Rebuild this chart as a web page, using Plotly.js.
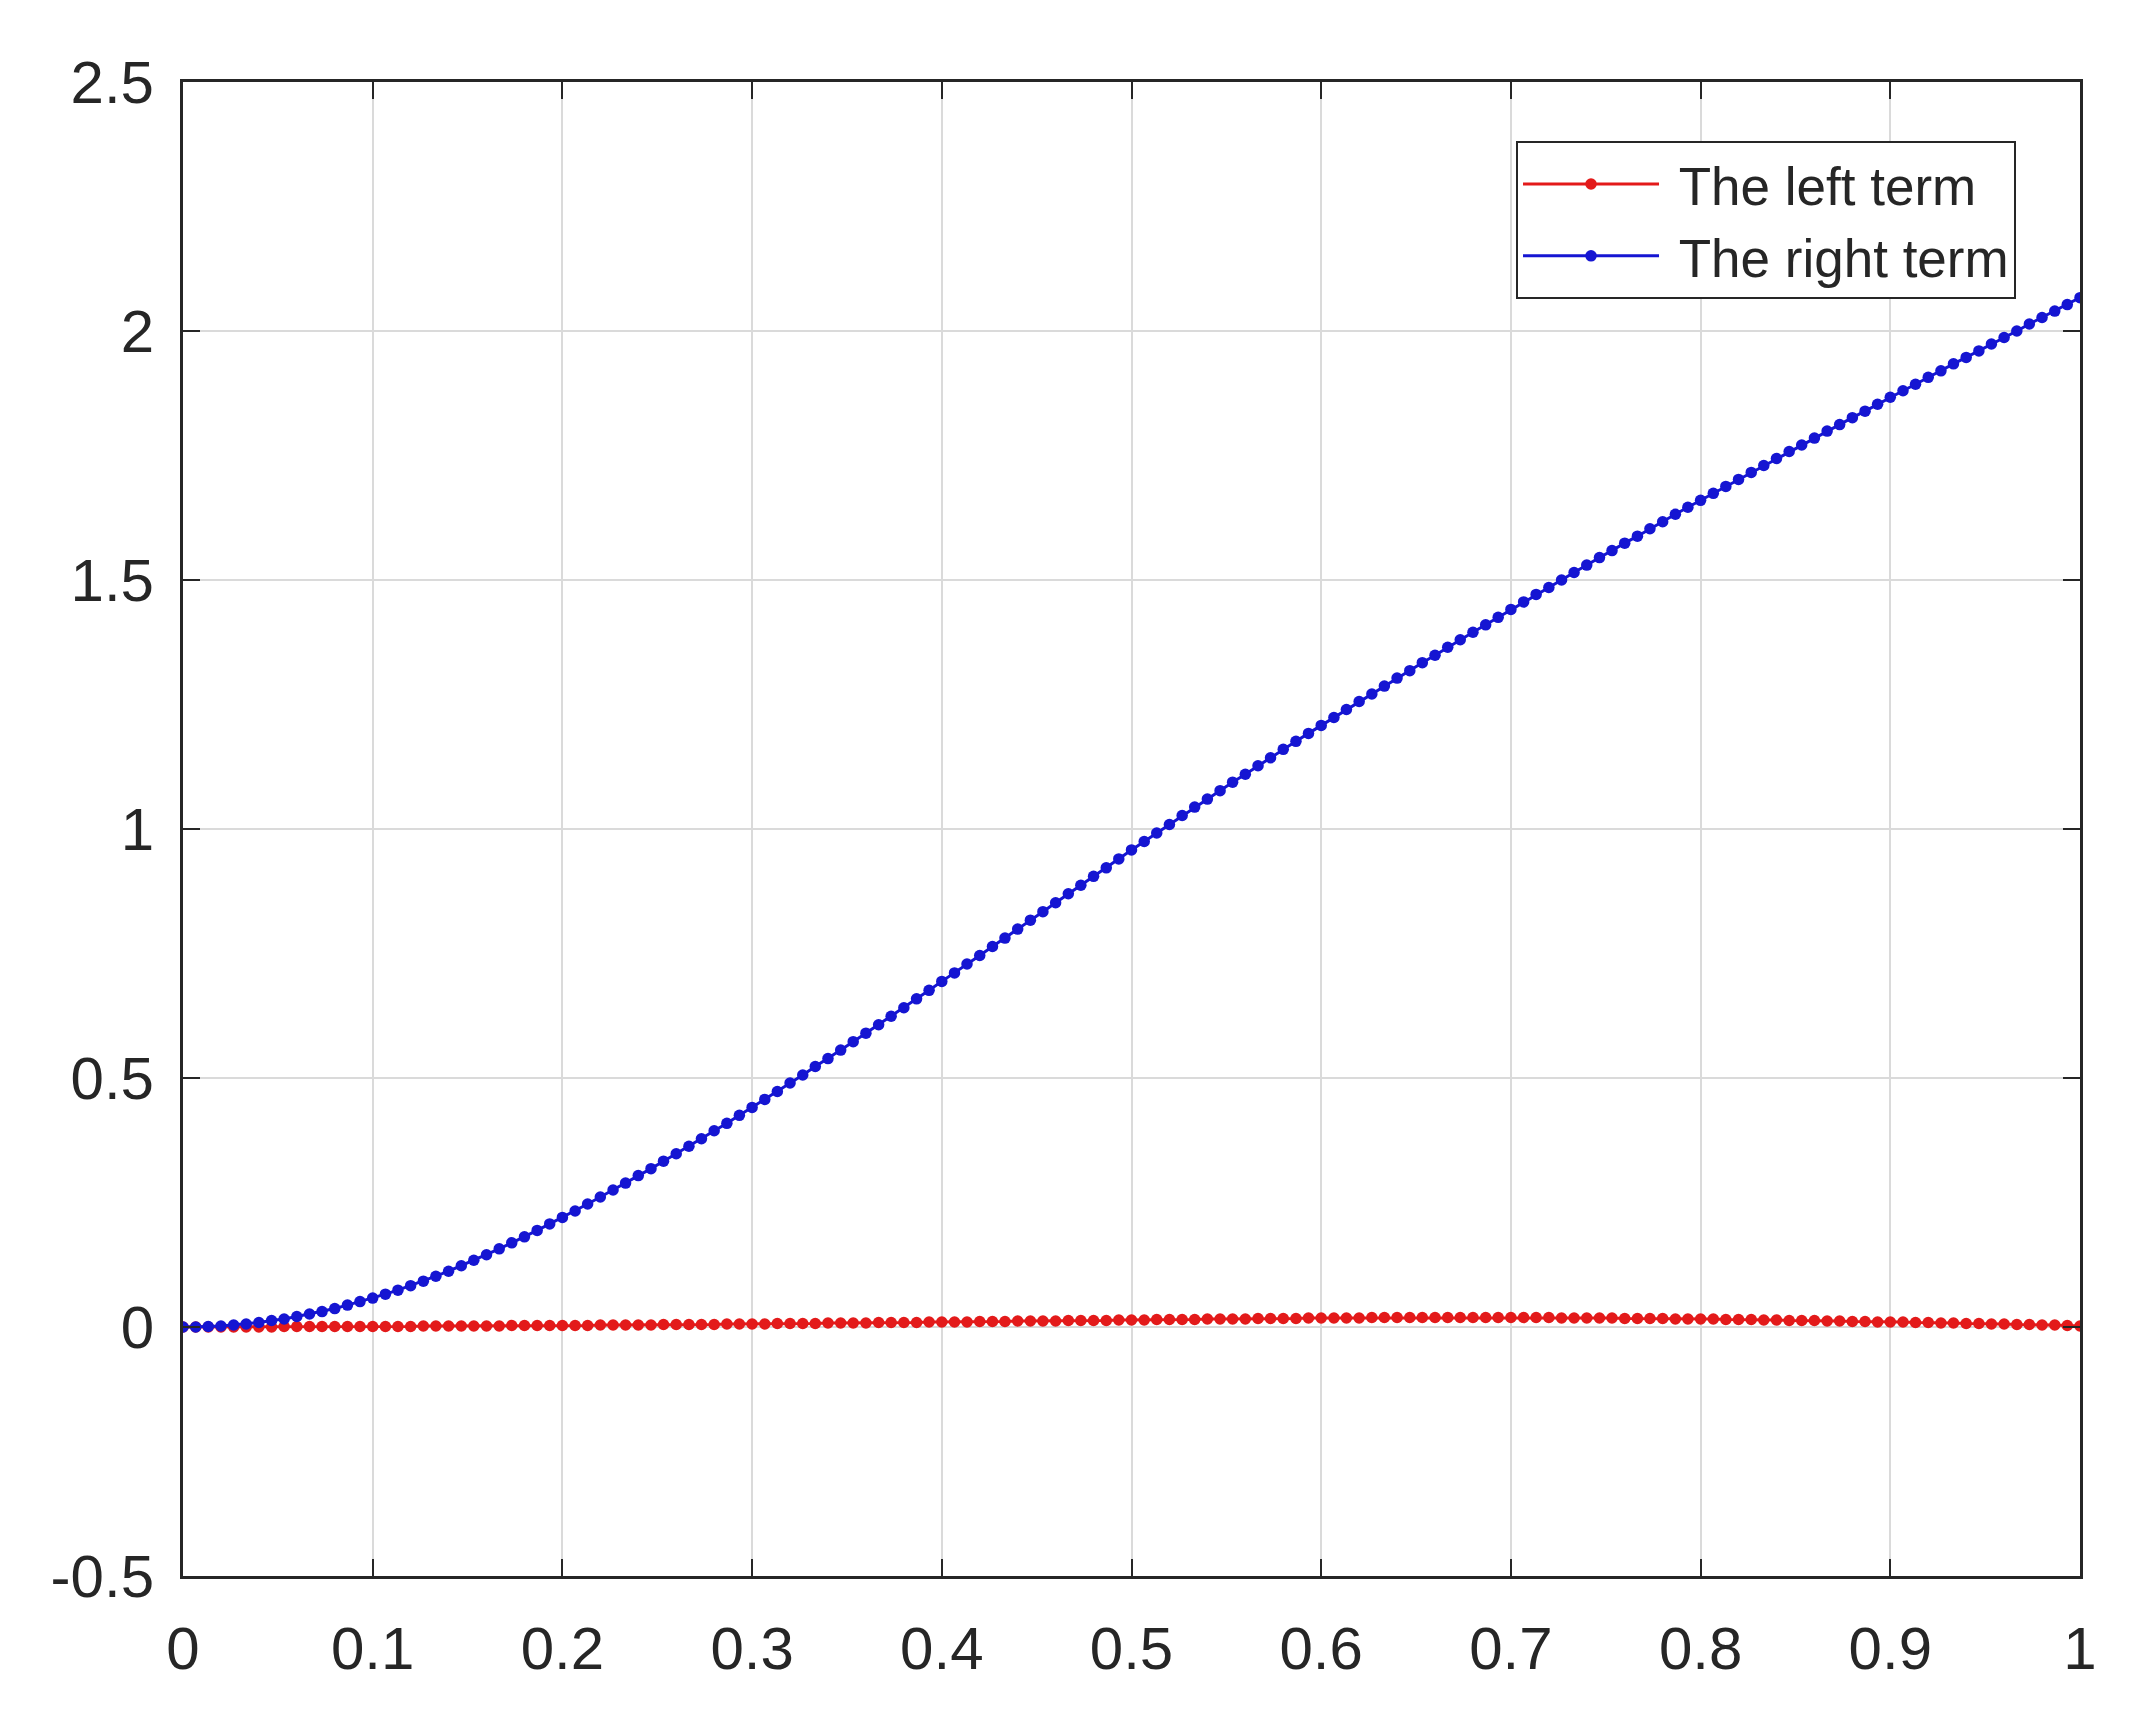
<!DOCTYPE html>
<html>
<head>
<meta charset="utf-8">
<script src="https://cdn.plot.ly/plotly-3.0.1.min.js"></script>
<style>html,body{margin:0;padding:0;background:#fff;}#chart{width:2145px;height:1722px;}</style>
</head>
<body>
<div id="chart"></div>
<script>
const xValues = [
0,0.0067,0.0133,0.02,0.0267,0.0333,0.04,0.0467,0.0533,0.06,0.0667,0.0733,0.08,0.0867,0.0933,
0.1,0.1067,0.1133,0.12,0.1267,0.1333,0.14,0.1467,0.1533,0.16,0.1667,0.1733,0.18,0.1867,0.1933,
0.2,0.2067,0.2133,0.22,0.2267,0.2333,0.24,0.2467,0.2533,0.26,0.2667,0.2733,0.28,0.2867,0.2933,
0.3,0.3067,0.3133,0.32,0.3267,0.3333,0.34,0.3467,0.3533,0.36,0.3667,0.3733,0.38,0.3867,0.3933,
0.4,0.4067,0.4133,0.42,0.4267,0.4333,0.44,0.4467,0.4533,0.46,0.4667,0.4733,0.48,0.4867,0.4933,
0.5,0.5067,0.5133,0.52,0.5267,0.5333,0.54,0.5467,0.5533,0.56,0.5667,0.5733,0.58,0.5867,0.5933,
0.6,0.6067,0.6133,0.62,0.6267,0.6333,0.64,0.6467,0.6533,0.66,0.6667,0.6733,0.68,0.6867,0.6933,
0.7,0.7067,0.7133,0.72,0.7267,0.7333,0.74,0.7467,0.7533,0.76,0.7667,0.7733,0.78,0.7867,0.7933,
0.8,0.8067,0.8133,0.82,0.8267,0.8333,0.84,0.8467,0.8533,0.86,0.8667,0.8733,0.88,0.8867,0.8933,
0.9,0.9067,0.9133,0.92,0.9267,0.9333,0.94,0.9467,0.9533,0.96,0.9667,0.9733,0.98,0.9867,0.9933,
1
];

const leftTerm = [
0,0,0,0,0,0,0,0,0.001,0.001,0.001,0.001,0.001,0.001,0.001,
0.001,0.001,0.001,0.001,0.002,0.002,0.002,0.002,0.002,0.002,0.002,0.003,0.003,0.003,0.003,
0.003,0.003,0.003,0.004,0.004,0.004,0.004,0.004,0.005,0.005,0.005,0.005,0.005,0.006,0.006,
0.006,0.006,0.007,0.007,0.007,0.007,0.008,0.008,0.008,0.008,0.009,0.009,0.009,0.009,0.010,
0.010,0.010,0.010,0.011,0.011,0.011,0.012,0.012,0.012,0.012,0.013,0.013,0.013,0.013,0.014,
0.014,0.014,0.015,0.015,0.015,0.015,0.016,0.016,0.016,0.016,0.017,0.017,0.017,0.017,0.018,
0.018,0.018,0.018,0.018,0.019,0.019,0.019,0.019,0.019,0.019,0.019,0.019,0.019,0.019,0.019,
0.019,0.019,0.019,0.019,0.018,0.018,0.018,0.018,0.018,0.017,0.017,0.017,0.017,0.016,0.016,
0.016,0.016,0.015,0.015,0.015,0.014,0.014,0.013,0.013,0.013,0.012,0.012,0.011,0.011,0.010,
0.010,0.010,0.009,0.009,0.008,0.008,0.007,0.007,0.006,0.006,0.005,0.005,0.004,0.004,0.003,
0.002
];

const rightTerm = [
0,0.000,0.001,0.002,0.004,0.006,0.009,0.013,
0.016,0.021,0.026,0.031,0.037,0.044,0.051,
0.058,0.066,0.074,0.083,0.092,0.102,0.112,0.123,
0.134,0.145,0.157,0.169,0.181,0.194,0.207,
0.220,0.233,0.247,0.261,0.275,0.289,0.304,0.318,
0.333,0.348,0.363,0.378,0.394,0.409,0.425,
0.441,0.457,0.473,0.490,0.506,0.523,0.539,0.556,
0.573,0.590,0.607,0.624,0.641,0.659,0.676,
0.694,0.711,0.729,0.746,0.764,0.781,0.799,0.817,
0.834,0.852,0.870,0.887,0.905,0.922,0.940,
0.958,0.975,0.992,1.009,1.027,1.044,1.060,1.077,
1.094,1.110,1.127,1.143,1.160,1.176,1.192,
1.208,1.224,1.240,1.256,1.271,1.287,1.303,1.318,
1.334,1.349,1.365,1.380,1.395,1.410,1.425,
1.441,1.456,1.471,1.485,1.500,1.515,1.530,1.545,
1.559,1.574,1.588,1.603,1.617,1.632,1.646,
1.660,1.674,1.688,1.702,1.716,1.730,1.744,1.758,
1.771,1.785,1.799,1.812,1.826,1.839,1.853,
1.867,1.880,1.893,1.907,1.920,1.934,1.947,1.960,
1.974,1.987,2.000,2.014,2.027,2.040,2.053,
2.067
];

const seriesNames = ['The left term', 'The right term'];
const xTickVals = [0,0.1,0.2,0.3,0.4,0.5,0.6,0.7,0.8,0.9,1];
const xTickText = ['0','0.1','0.2','0.3','0.4','0.5','0.6','0.7','0.8','0.9','1'];
const yTickVals = [-0.5,0,0.5,1,1.5,2,2.5];
const yTickText = ['-0.5','0','0.5','1','1.5','2','2.5'];

const FONT = 'Liberation Sans, Arial, Helvetica, sans-serif';
const AXC = '#262626';
const RED = '#e31a1a';
const BLUE = '#1515d2';

const traces = [
  {
    x: xValues, y: leftTerm, name: '\u00A0' + seriesNames[0],
    type: 'scatter', mode: 'lines+markers',
    line: {color: RED, width: 3},
    marker: {color: RED, size: 11.5, symbol: 'circle'}
  },
  {
    x: xValues, y: rightTerm, name: '\u00A0' + seriesNames[1],
    type: 'scatter', mode: 'lines+markers',
    line: {color: BLUE, width: 3},
    marker: {color: BLUE, size: 11.5, symbol: 'circle'}
  }
];

const axisCommon = {
  showline: true, linecolor: AXC, linewidth: 3, mirror: 'ticks',
  ticks: 'inside', ticklen: 17, tickwidth: 2, tickcolor: AXC,
  showgrid: true, gridcolor: '#dadada', gridwidth: 2,
  zeroline: false,
  tickfont: {family: FONT, size: 60, color: AXC},
  tickmode: 'array'
};

const layout = {
  width: 2145, height: 1722,
  paper_bgcolor: '#ffffff', plot_bgcolor: '#ffffff',
  margin: {l: 183, r: 65, t: 82, b: 146, pad: 0},
  showlegend: true,
  xaxis: Object.assign({}, axisCommon, {
    range: [0, 1], tickvals: xTickVals, ticktext: xTickText,
    ticklabelstandoff: 18
  }),
  yaxis: Object.assign({}, axisCommon, {
    range: [-0.5, 2.5], tickvals: yTickVals, ticktext: yTickText,
    ticklabelstandoff: 14
  }),
  legend: {
    x: 0.7027, y: 0.9605, xanchor: 'left', yanchor: 'top',
    bgcolor: '#ffffff', bordercolor: AXC, borderwidth: 2,
    font: {family: FONT, size: 53, color: AXC},
    itemwidth: 136, tracegroupgap: 0
  }
};

Plotly.newPlot('chart', traces, layout, {displayModeBar: false, staticPlot: true});
</script>
</body>
</html>
